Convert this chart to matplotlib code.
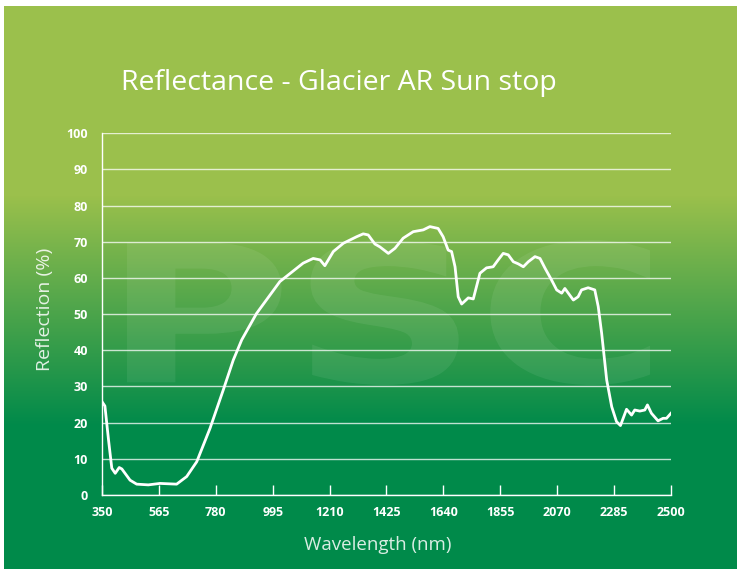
import numpy as np
import matplotlib
matplotlib.use("Agg")
import matplotlib.pyplot as plt
from matplotlib.textpath import TextPath
from matplotlib.patches import PathPatch
from matplotlib.font_manager import FontProperties
from matplotlib.transforms import Affine2D

# reflectance curve
wavelength = [350, 361, 375, 387, 400, 415, 425, 456, 481, 525, 569, 632, 670, 708,
              758, 808, 846, 878, 934, 1022, 1110, 1148, 1174, 1192, 1224, 1262, 1312,
              1337, 1356, 1381, 1400, 1432, 1457, 1488, 1526, 1564, 1589, 1620, 1639,
              1658, 1671, 1684, 1696, 1709, 1734, 1753, 1778, 1803, 1828, 1847, 1866,
              1885, 1904, 1923, 1942, 1961, 1986, 2005, 2024, 2049, 2068, 2087, 2099,
              2131, 2149, 2162, 2187, 2212, 2225, 2238, 2257, 2276, 2294, 2309, 2332,
              2351, 2363, 2382, 2401, 2411, 2426, 2451, 2470, 2483, 2500]
reflection = [25.8, 24.6, 15.0, 7.4, 6.0, 7.6, 7.2, 4.1, 3.0, 2.8, 3.2, 3.0, 5.1, 9.2,
              18.4, 29.0, 37.3, 42.9, 50.2, 59.0, 64.1, 65.4, 65.0, 63.4, 67.3, 69.6, 71.4,
              72.2, 71.9, 69.4, 68.6, 66.8, 68.2, 71.0, 72.8, 73.3, 74.2, 73.7, 71.4,
              67.7, 67.3, 63.1, 54.8, 52.8, 54.5, 54.2, 61.3, 62.8, 63.1, 65.0, 66.8,
              66.4, 64.5, 63.9, 63.1, 64.5, 65.9, 65.4, 62.7, 59.4, 56.7, 55.8, 57.1,
              53.9, 54.8, 56.7, 57.3, 56.7, 52.1, 44.7, 31.8, 24.4, 20.3, 19.2, 23.7,
              22.1, 23.5, 23.2, 23.5, 24.9, 22.6, 20.5, 21.2, 21.2, 22.6]

xticks = [350, 565, 780, 995, 1210, 1425, 1640, 1855, 2070, 2285, 2500]
yticks = list(range(0, 101, 10))

W, H = 737, 569
fig = plt.figure(figsize=(W / 100, H / 100), dpi=100, facecolor="white")

# green gradient background panel
bg = fig.add_axes([4 / W, 0, (W - 4) / W, (H - 6) / H])
rows = np.arange(6, H)
top_c = np.array([155, 192, 76]) / 255
bot_c = np.array([0, 138, 74]) / 255
t = np.clip((rows - 195) / (425 - 195), 0, 1)[:, None]
grad = top_c * (1 - t) + bot_c * t
bg.imshow(grad[:, None, :], aspect="auto", extent=[0, 1, 0, 1])
bg.set_axis_off()

# faint watermark, stretched into its box (pixel coords, origin bottom-left)
tp = TextPath((0, 0), "PSC", size=100, prop=FontProperties(family="DejaVu Sans", weight="bold"))
ext = tp.get_extents()
x0, x1, y0, y1 = 127, 650, H - 385, H - 240
tr = (Affine2D().translate(-ext.x0, -ext.y0)
      .scale((x1 - x0) / ext.width, (y1 - y0) / ext.height).translate(x0, y0))
fig.patches.append(PathPatch(tr.transform_path(tp), facecolor="white", edgecolor="none",
                             alpha=0.07, transform=None, figure=fig))

ax = fig.add_axes([102 / W, 1 - 495 / H, 569 / W, (495 - 133.3) / H])
ax.patch.set_alpha(0)
ax.plot(wavelength, reflection, color="white", lw=2.0, solid_joinstyle="round")
ax.set_xlim(350, 2500)
ax.set_ylim(0, 100)
ax.set_xticks(xticks)
ax.set_yticks(yticks)
ax.grid(axis="y", color="white", lw=1, alpha=0.75)
ax.set_axisbelow(True)
for s in ["top", "right"]:
    ax.spines[s].set_visible(False)
for s in ["left", "bottom"]:
    ax.spines[s].set_color("white")
    ax.spines[s].set_linewidth(1)
ax.tick_params(axis="x", direction="in", length=7, color="white", width=1,
               labelcolor="white", labelsize=9, pad=8)
ax.tick_params(axis="y", length=0, labelcolor="white", labelsize=9, pad=10)
for lab in ax.get_xticklabels() + ax.get_yticklabels():
    lab.set_fontweight("bold")
    lab.set_family("Open Sans")

fig.text(378 / W, 1 - 545 / H, "Wavelength (nm)", color="white", fontsize=13.5,
         family="Open Sans", alpha=0.85, ha="center", va="center")
fig.text(45 / W, 1 - 309 / H, "Reflection (%)", color="white", fontsize=14,
         family="Open Sans", alpha=0.85, ha="center", va="center", rotation=90)

fig.text(121 / W, 1 - 83 / H, "Reflectance - Glacier AR Sun stop", color="white",
         fontsize=20.5, family="Open Sans", va="center", ha="left")

fig.savefig("out.png", dpi=100)
